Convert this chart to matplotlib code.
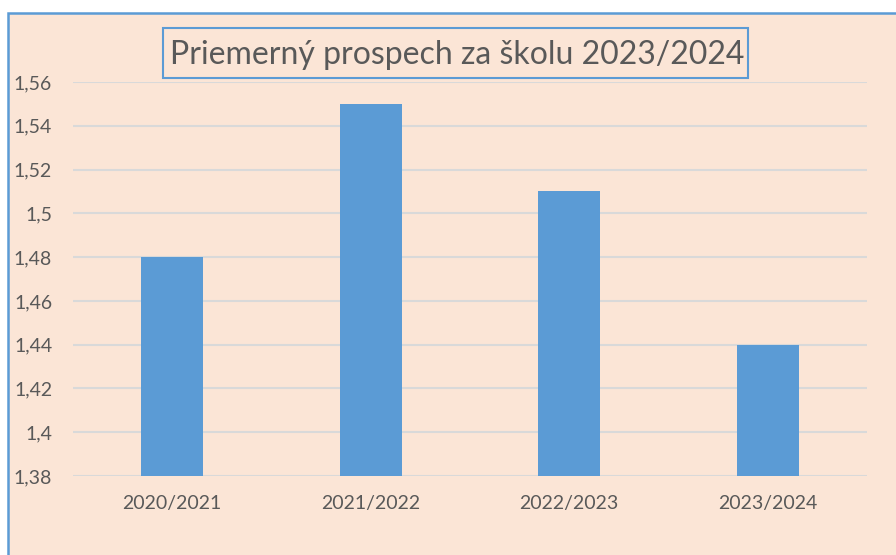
import matplotlib
matplotlib.use("Agg")
import matplotlib.pyplot as plt
from matplotlib.patches import Rectangle
from matplotlib.ticker import FuncFormatter, MultipleLocator

categories = ["2020/2021", "2021/2022", "2022/2023", "2023/2024"]
values = [1.48, 1.55, 1.51, 1.44]
title = "Priemerný prospech za školu 2023/2024"

W, H = 896, 555
bg = "#FBE5D6"
blue = "#5B9BD5"
txt = "#595959"
plt.rcParams['font.family'] = ['Lato', 'DejaVu Sans']

fig = plt.figure(figsize=(W/100, H/100), dpi=100, facecolor="white")

def fx(px): return px / W
def fy(py): return 1 - py / H

# chart area background with border
fig.patches.append(Rectangle((fx(8), -0.01), 1.0, fy(13.5) + 0.01, transform=fig.transFigure,
                             facecolor=bg, edgecolor=blue, linewidth=1.8, zorder=-5))

ax = fig.add_axes([fx(73), fy(476), fx(867) - fx(73), fy(82) - fy(476)])
ax.set_zorder(2)
ax.set_facecolor("none")
x = range(len(categories))
ax.bar(x, values, width=0.31, color=blue, zorder=3)
ax.set_xlim(-0.5, len(categories) - 0.5)
ax.set_ylim(1.38, 1.56)
ax.yaxis.set_major_locator(MultipleLocator(0.02))
ax.yaxis.set_major_formatter(FuncFormatter(lambda v, p: f"{v:.2f}".rstrip('0').rstrip('.').replace('.', ',')))
ax.set_xticks(list(x))
ax.set_xticklabels(categories)
ax.grid(axis='y', color="#D9D9D9", linewidth=1.5, zorder=0)
for s in ax.spines.values():
    s.set_visible(False)
ax.tick_params(axis='both', length=0, colors=txt, labelsize=14)
ax.tick_params(axis='y', pad=15)
ax.tick_params(axis='x', pad=14)

# title box
fig.patches.append(Rectangle((fx(163), fy(78)), fx(748) - fx(163), fy(28) - fy(78),
                             transform=fig.transFigure, facecolor="none", edgecolor=blue,
                             linewidth=1.5, zorder=5))
fig.text(fx(457), fy(55), title, ha='center', va='center', fontsize=23, color=txt, zorder=6)

fig.savefig("out.png", dpi=100, facecolor="white")
